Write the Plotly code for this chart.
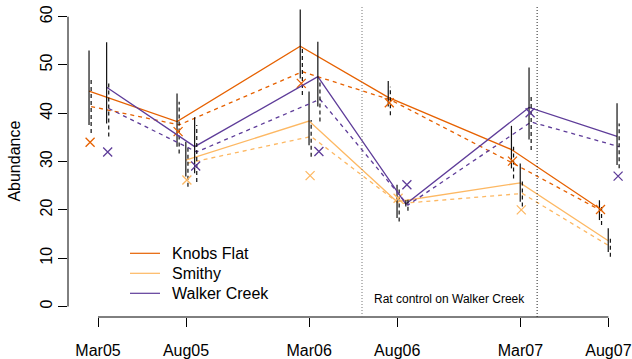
import plotly.graph_objects as go

# ---- data -------------------------------------------------------------
dates = ["Mar05", "Aug05", "Mar06", "Aug06", "Mar07", "Aug07"]
months = [0, 5, 12, 17, 24, 29]          # months since Mar05
sites = ["Knobs Flat", "Smithy", "Walker Creek"]

# solid-line estimates and their intervals
kf_fit = [44.6, 38.3, 53.9, 43.3, 32.5, 20.3]
kf_lo = [37.6, 33.1, 47.2, 41.4, 28.6, 17.9]
kf_hi = [53.0, 44.1, 61.5, 46.7, 37.4, 22.0]
# dashed-line estimates and their intervals
kf_fit2 = [41.4, 37.6, 48.6, 42.8, 29.6, 19.8]
kf_lo2 = [35.9, 31.7, 43.8, 39.6, 26.5, 16.9]
kf_hi2 = [46.9, 42.4, 53.8, 45.5, 33.1, 21.0]
kf_obs = [34.0, 36.2, 46.2, 42.2, 30.1, 20.1]

sm_fit = [None, 30.3, 38.4, 21.7, 25.6, 13.6]
sm_lo = [None, 26.9, 33.4, 18.3, 21.7, 11.3]
sm_hi = [None, 34.1, 44.5, 25.2, 29.6, 16.2]
sm_fit2 = [None, 29.7, 35.2, 21.3, 23.4, 12.4]
sm_lo2 = [None, 24.8, 31.0, 17.6, 20.7, 10.3]
sm_hi2 = [None, 33.0, 38.6, 24.5, 26.2, 14.5]
sm_obs = [None, 26.2, 27.1, 22.4, 20.0, None]

wc_fit = [45.4, 33.1, 47.6, 21.2, 41.2, 35.2]
wc_lo = [37.9, 27.6, 41.4, 20.7, 34.6, 29.3]
wc_hi = [54.7, 39.2, 54.8, 22.0, 49.5, 42.1]
wc_fit2 = [41.0, 32.0, 42.9, 21.0, 38.2, 33.1]
wc_lo2 = [35.2, 25.8, 38.3, 19.8, 32.4, 28.6]
wc_hi2 = [46.2, 37.6, 47.0, 22.2, 43.4, 37.9]
wc_obs = [32.0, 29.1, 32.1, 25.2, 40.1, 27.0]

event_months = [15, 24.95]
event_label = "Rat control on Walker Creek"

# ---- styling ------------------------------------------------------------
colors = {"Knobs Flat": "#e66101", "Smithy": "#fdb863", "Walker Creek": "#5e3c99"}
site_offset = {"Knobs Flat": -0.45, "Smithy": 0.05, "Walker Creek": 0.55}
pair_off = 0.06
FONT = "Liberation Sans, Arial, sans-serif"

series = {
    "Knobs Flat": (kf_fit, kf_lo, kf_hi, kf_fit2, kf_lo2, kf_hi2, kf_obs),
    "Smithy": (sm_fit, sm_lo, sm_hi, sm_fit2, sm_lo2, sm_hi2, sm_obs),
    "Walker Creek": (wc_fit, wc_lo, wc_hi, wc_fit2, wc_lo2, wc_hi2, wc_obs),
}


def bars(xs, lo, hi):
    bx, by = [], []
    for x, a, b in zip(xs, lo, hi):
        if a is None:
            continue
        bx += [x, x, None]
        by += [a, b, None]
    return bx, by


fig = go.Figure()
for s in sites:
    fit, lo, hi, fit2, lo2, hi2, obs = series[s]
    c = colors[s]
    xc = [m + site_offset[s] for m in months]
    x1 = [x - pair_off for x in xc]
    x2 = [x + pair_off for x in xc]
    fig.add_trace(go.Scatter(x=x1, y=fit, mode="lines", connectgaps=False,
                             line=dict(color=c, width=1.3), showlegend=False))
    fig.add_trace(go.Scatter(x=x2, y=fit2, mode="lines",
                             line=dict(color=c, width=1.3, dash="4px,4px"), showlegend=False))
    bx, by = bars(x1, lo, hi)
    fig.add_trace(go.Scatter(x=bx, y=by, mode="lines",
                             line=dict(color="#111111", width=1.2), showlegend=False))
    bx, by = bars(x2, lo2, hi2)
    fig.add_trace(go.Scatter(x=bx, y=by, mode="lines",
                             line=dict(color="#111111", width=1.2, dash="4px,3px"), showlegend=False))
    fig.add_trace(go.Scatter(x=xc, y=obs, mode="markers",
                             marker=dict(symbol="x-thin", size=9,
                                         line=dict(color=c, width=1.3)),
                             showlegend=False))

shapes = []
# axis lines (R style, spanning only the tick range)
shapes.append(dict(type="line", xref="x", yref="paper", x0=months[0], x1=months[-1],
                   y0=0, y1=0, line=dict(color="black", width=1)))
shapes.append(dict(type="line", xref="paper", yref="y", x0=0, x1=0, y0=0, y1=60,
                   line=dict(color="black", width=1)))
for m, col in zip(event_months, ["#777777", "#222222"]):
    shapes.append(dict(type="line", xref="x", yref="paper", x0=m, x1=m, y0=0, y1=1,
                       line=dict(color=col, width=1, dash="1px,2px")))

# legend (drawn manually, R-like)
W, H, L, B = 632, 359, 68, 42
T = 5
pw, ph = W - L, H - T - B
annotations = []
for i, s in enumerate(sites):
    py = 253.3 + 20 * i
    yp = (H - B - py) / ph
    shapes.append(dict(type="line", xref="paper", yref="paper",
                       x0=(130 - L) / pw, x1=(160 - L) / pw, y0=yp, y1=yp,
                       line=dict(color=colors[s], width=1.2)))
    annotations.append(dict(text=s, xref="paper", yref="paper", x=(170 - L) / pw, y=yp,
                            xanchor="left", yanchor="middle", showarrow=False,
                            font=dict(family=FONT, size=16, color="black")))

annotations.append(dict(text=event_label, xref="x", yref="y",
                        x=sum(event_months) / 2, y=1.5, showarrow=False,
                        xanchor="center", yanchor="middle",
                        font=dict(family=FONT, size=12, color="black")))
annotations.append(dict(text="Abundance", xref="paper", yref="y", x=0, y=30,
                        xshift=-53, textangle=-90, showarrow=False,
                        xanchor="center", yanchor="middle",
                        font=dict(family=FONT, size=16, color="black")))

fig.update_layout(
    width=W, height=H,
    margin=dict(l=L, r=0, t=T, b=B, pad=0),
    paper_bgcolor="white", plot_bgcolor="white",
    font=dict(family=FONT, size=16, color="black"),
    shapes=shapes, annotations=annotations, showlegend=False,
    xaxis=dict(range=[-1.705, 30.34], showgrid=False, zeroline=False, showline=False,
               ticks="outside", ticklen=9, tickwidth=1, tickcolor="black",
               tickvals=months, ticktext=dates, ticklabelstandoff=10,
               tickfont=dict(family=FONT, size=16, color="black")),
    yaxis=dict(range=[-2.17, 62.42], showgrid=False, zeroline=False, showline=False,
               ticks="outside", ticklen=9, tickwidth=1, tickcolor="black",
               tickvals=[0, 10, 20, 30, 40, 50, 60], tickangle=-90,
               tickfont=dict(family=FONT, size=16, color="black")),
)

fig.write_html("out.html")
